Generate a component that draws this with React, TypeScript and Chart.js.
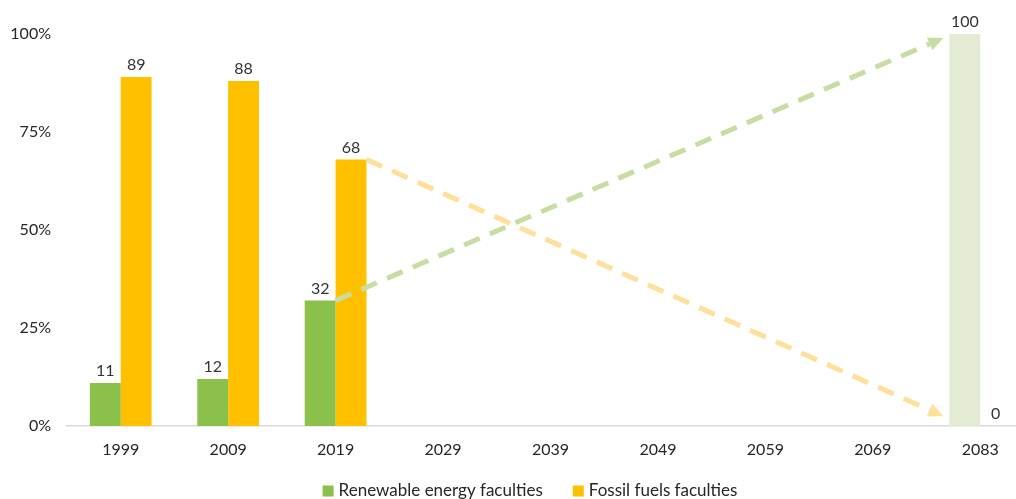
import React, { useEffect, useRef } from "react";
import { Chart, registerables } from "chart.js";

Chart.register(...registerables);

const years = ["1999", "2009", "2019", "2029", "2039", "2049", "2059", "2069", "2083"];
const renewable: (number | null)[] = [11, 12, 32, null, null, null, null, null, 100];
const fossil: (number | null)[] = [89, 88, 68, null, null, null, null, null, 0];
const yTicks = [0, 25, 50, 75, 100];
const renewableLabel = "Renewable energy faculties";
const fossilLabel = "Fossil fuels faculties";
// projection arrows: from 2019 values to 2083 targets
const greenArrowTarget = 99;
const orangeArrowTarget = 2.5;

const GREEN = "#8bc14a";
const PALE_GREEN = "#e3ebd3";
const ORANGE = "#ffc000";
const GREEN_DASH = "#c8dda4";
const ORANGE_DASH = "#ffdf9a";
const FONT = "Lato, 'Open Sans', sans-serif";

const W = 1060;
const H = 499;

const overlayPlugin = {
  id: "overlay",
  afterDatasetsDraw(chart: any) {
    const ctx = chart.ctx as CanvasRenderingContext2D;
    const y = chart.scales.y;
    const m0 = chart.getDatasetMeta(0);
    const m1 = chart.getDatasetMeta(1);
    const i2019 = years.indexOf("2019");
    const iEnd = years.length - 1;

    const drawArrow = (x1: number, y1: number, x2: number, y2: number, color: string) => {
      const dx = x2 - x1;
      const dy = y2 - y1;
      const len = Math.sqrt(dx * dx + dy * dy);
      const ux = dx / len;
      const uy = dy / len;
      const head = 15;
      const hw = 7;
      const bx = x2 - ux * head;
      const by = y2 - uy * head;
      ctx.save();
      ctx.strokeStyle = color;
      ctx.fillStyle = color;
      ctx.lineWidth = 5;
      ctx.setLineDash([17, 11]);
      ctx.beginPath();
      ctx.moveTo(x1, y1);
      ctx.lineTo(bx, by);
      ctx.stroke();
      ctx.setLineDash([]);
      ctx.beginPath();
      ctx.moveTo(x2, y2);
      ctx.lineTo(bx - uy * hw, by + ux * hw);
      ctx.lineTo(bx + uy * hw, by - ux * hw);
      ctx.closePath();
      ctx.fill();
      ctx.restore();
    };

    const g = m0.data[i2019];
    const o = m1.data[i2019];
    const gEnd = m0.data[iEnd];
    const endX = gEnd.x - gEnd.width / 2 - 6;
    drawArrow(g.x + g.width / 2, g.y, endX, y.getPixelForValue(greenArrowTarget), GREEN_DASH);
    drawArrow(o.x + o.width / 2, o.y, endX, y.getPixelForValue(orangeArrowTarget), ORANGE_DASH);

    ctx.save();
    ctx.font = `16px ${FONT}`;
    ctx.fillStyle = "#333333";
    ctx.textAlign = "center";
    ctx.textBaseline = "bottom";
    [m0, m1].forEach((meta: any, di: number) => {
      const vals = di === 0 ? renewable : fossil;
      meta.data.forEach((el: any, i: number) => {
        const v = vals[i];
        if (v === null || v === undefined) return;
        ctx.fillText(String(v), el.x, el.y - 4);
      });
    });
    ctx.restore();
  },
  afterDraw(chart: any) {
    // legend
    const ctx = chart.ctx as CanvasRenderingContext2D;
    const items = [
      { text: renewableLabel, color: GREEN },
      { text: fossilLabel, color: ORANGE },
    ];
    const box = 11;
    const gapBoxText = 5;
    const gapItems = 30;
    ctx.save();
    ctx.font = `17px ${FONT}`;
    const widths = items.map((it) => box + gapBoxText + ctx.measureText(it.text).width);
    const total = widths.reduce((a, b) => a + b, 0) + gapItems * (items.length - 1);
    let x = chart.width / 2 - total / 2;
    const cy = 491;
    ctx.textBaseline = "middle";
    ctx.textAlign = "left";
    items.forEach((it, i) => {
      ctx.fillStyle = it.color;
      ctx.fillRect(x, cy - box / 2, box, box);
      ctx.fillStyle = "#262626";
      ctx.fillText(it.text, x + box + gapBoxText, cy);
      x += widths[i] + gapItems;
    });
    ctx.restore();
  },
};

export default function App() {
  const ref = useRef<HTMLCanvasElement | null>(null);
  useEffect(() => {
    document.body.style.margin = "0";
    document.body.style.overflow = "hidden";
    const canvas = ref.current!;
    const chart = new Chart(canvas, {
      type: "bar",
      data: {
        labels: years,
        datasets: [
          {
            label: renewableLabel,
            data: renewable,
            backgroundColor: years.map((_, i) => (i === years.length - 1 ? PALE_GREEN : GREEN)),
            categoryPercentage: 0.575,
            barPercentage: 1.0,
          },
          {
            label: fossilLabel,
            data: fossil,
            backgroundColor: ORANGE,
            categoryPercentage: 0.575,
            barPercentage: 1.0,
          },
        ],
      },
      options: {
        animation: false,
        responsive: false,
        maintainAspectRatio: false,
        layout: { padding: { top: 34, right: 26, left: 0, bottom: 27 } },
        plugins: {
          tooltip: { enabled: false },
          legend: { display: false },
        },
        scales: {
          x: {
            grid: { display: false, drawTicks: false },
            border: { display: true, color: "#d9d9d9", width: 1.5 },
            ticks: { font: { family: FONT, size: 16 }, color: "#262626", padding: 14 },
            afterFit: (s: any) => {
              s.height = 46;
            },
          },
          y: {
            min: 0,
            max: 100,
            grid: { display: false, drawTicks: false },
            border: { display: false },
            afterBuildTicks: (s: any) => {
              s.ticks = yTicks.map((v) => ({ value: v }));
            },
            ticks: {
              font: { family: FONT, size: 16 },
              color: "#262626",
              padding: 16,
              callback: (v: any) => `${v}%`,
            },
            afterFit: (s: any) => {
              s.width = 67;
            },
          },
        },
      },
      plugins: [overlayPlugin],
    });
    return () => chart.destroy();
  }, []);
  return (
    <div style={{ position: "fixed", left: 0, top: 0, width: W, height: H }}>
      <canvas ref={ref} width={W} height={H} style={{ width: W, height: H }} />
    </div>
  );
}
